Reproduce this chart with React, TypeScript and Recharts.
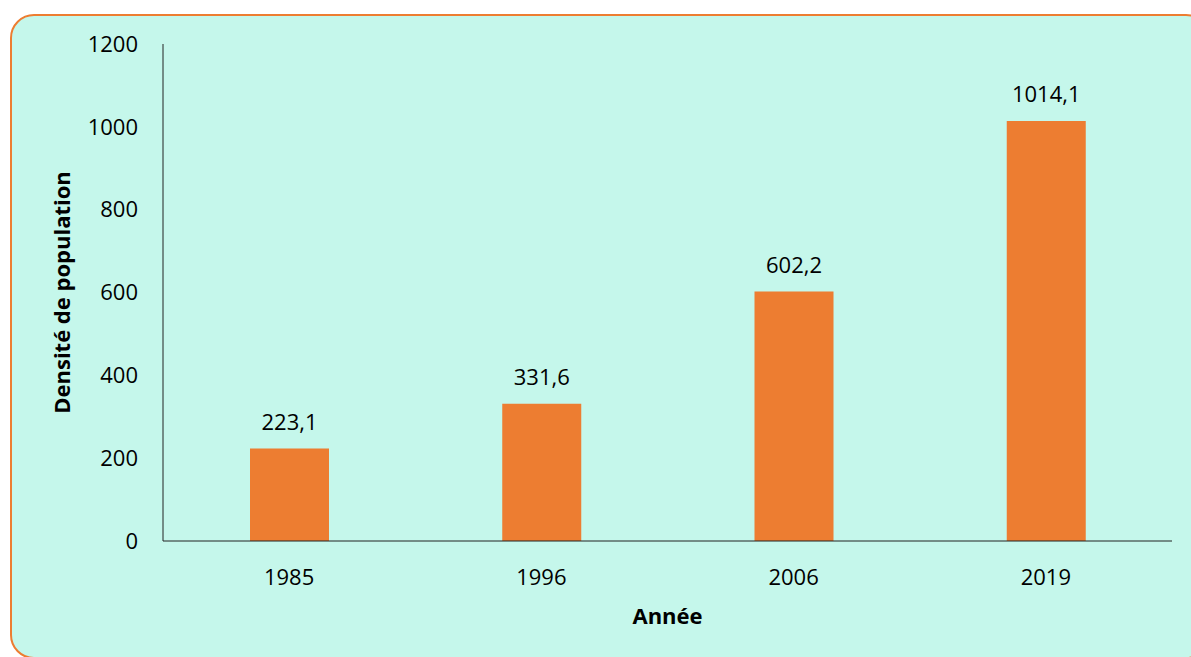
import React from 'react';
import { BarChart, Bar, XAxis, YAxis, LabelList } from 'recharts';

const years = ['1985', '1996', '2006', '2019'];
const density = [223.1, 331.6, 602.2, 1014.1];
const yTicks = [0, 200, 400, 600, 800, 1000, 1200];

const ORANGE = '#ED7D31';
const MINT = '#C5F7EB';
const FONT = '"Open Sans", "Noto Sans", sans-serif';

const formatFr = (v: unknown) => Number(v).toFixed(1).replace('.', ',');

export default function App() {
  const data = years.map((year, i) => ({ year, value: density[i] }));

  return (
    <div style={{ position: 'fixed', left: 0, top: 0, width: 1191, height: 657, overflow: 'hidden', background: '#fff', fontFamily: FONT }}>
      <div
        style={{
          position: 'absolute',
          left: 10,
          top: 14,
          width: 1200,
          height: 645,
          border: `2px solid ${ORANGE}`,
          borderRadius: 24,
          background: MINT,
          boxSizing: 'border-box'
        }}
      />
      <div style={{ position: 'absolute', left: 0, top: 0 }}>
        <BarChart width={1191} height={657} data={data} margin={{ top: 44, right: 19, bottom: 16, left: 0 }}>
          <XAxis
            dataKey="year"
            height={100}
            tickSize={0}
            tickMargin={28}
            axisLine={{ stroke: '#222', strokeWidth: 1 }}
            tick={{ fill: '#000', fontSize: 22, fontFamily: FONT }}
            label={{ value: 'Année', position: 'insideBottom', offset: 17, fill: '#000', fontSize: 22, fontWeight: 700, fontFamily: FONT }}
          />
          <YAxis
            width={163}
            domain={[0, 1200]}
            ticks={yTicks}
            tickSize={0}
            tickMargin={25}
            axisLine={{ stroke: '#222', strokeWidth: 1 }}
            tick={{ fill: '#000', fontSize: 22, fontFamily: FONT }}
            label={{
              value: 'Densité de population',
              angle: -90,
              position: 'insideLeft',
              offset: 62,
              fill: '#000',
              fontSize: 22,
              fontWeight: 700,
              fontFamily: FONT,
              style: { textAnchor: 'middle' }
            }}
          />
          <Bar dataKey="value" fill={ORANGE} barSize={79} isAnimationActive={false}>
            <LabelList dataKey="value" position="top" offset={19} formatter={formatFr} fill="#000" fontSize={22} fontFamily={FONT} />
          </Bar>
        </BarChart>
      </div>
    </div>
  );
}
